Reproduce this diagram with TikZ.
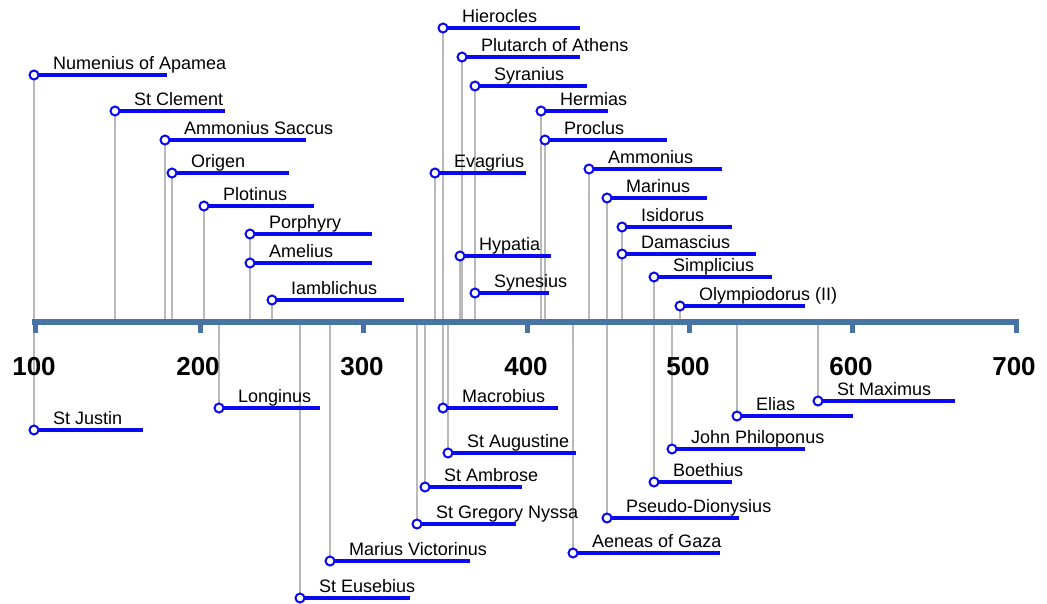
\documentclass[tikz,border=0pt]{standalone}
\usepackage{fontspec}
\setmainfont{Liberation Sans}
\definecolor{axisblue}{RGB}{72,116,164}
\definecolor{vgray}{RGB}{185,185,185}
\definecolor{barblue}{RGB}{10,10,240}
\tikzset{
  vline/.style={draw=vgray, line width=1.5pt},
  axisline/.style={draw=axisblue, line width=5.5pt},
  axistick/.style={draw=axisblue, line width=5pt},
  yearlabel/.style={font=\bfseries\fontsize{26}{29}\selectfont, inner sep=0pt, anchor=center},
  bar/.style={draw=barblue, line width=3.5pt},
  marker/.style={circle, draw=barblue, fill=white, line width=2pt, minimum size=9pt, inner sep=0pt},
  namelabel/.style={font=\fontsize{18}{20}\selectfont, inner sep=0pt, anchor=base west}
}
\begin{document}
\begin{tikzpicture}[x=1pt,y=-1pt]
\useasboundingbox (0,0) rectangle (1047,603);
\fill[white] (0,0) rectangle (1047,603);
\def\people{34/75/167/Numenius of Apamea,
115/111/225/St Clement,
165/140/306/Ammonius Saccus,
172/173/289/Origen,
204/206/314/Plotinus,
250/234/372/Porphyry,
250/263/372/Amelius,
272/300/404/Iamblichus,
443/28/580/Hierocles,
462/57/580/Plutarch of Athens,
475/86/587/Syranius,
541/111/608/Hermias,
545/140/667/Proclus,
435/173/526/Evagrius,
589/169/722/Ammonius,
607/198/707/Marinus,
622/227/732/Isidorus,
622/254/756/Damascius,
654/277/772/Simplicius,
680/306/805/Olympiodorus (II),
460/256/551/Hypatia,
475/293/549/Synesius,
34/430/143/St Justin,
219/408/320/Longinus,
300/598/410/St Eusebius,
330/561/470/Marius Victorinus,
443/408/558/Macrobius,
448/453/576/St Augustine,
425/487/522/St Ambrose,
417/524/516/St Gregory Nyssa,
573/553/720/Aeneas of Gaza,
818/401/955/St Maximus,
737/416/853/Elias,
672/449/805/John Philoponus,
654/482/732/Boethius,
607/518/739/Pseudo-Dionysius}
% coordinates and grey drop lines
\foreach \x/\y/\e/\t [count=\i] in \people {
  \coordinate (P\i) at (\x,\y);
  \coordinate (A\i) at (\x,322);
  \coordinate (E\i) at (\e,\y);
  \draw[vline] (A\i) -- (P\i);
}
% axis
\coordinate (axL) at (32,322);
\coordinate (axR) at (1019,322);
\draw[axisline] (axL) -- (axR);
\foreach \yr/\xx/\lx in {100/35/34, 200/200/198, 300/363/362, 400/527/526, 500/689/688, 600/852/851, 700/1016/1014} {
  \coordinate (T\yr) at (\xx,319.5);
  \coordinate (B\yr) at (\xx,333);
  \draw[axistick] (T\yr) -- (B\yr);
  \node[yearlabel] (Y\yr) at (\lx,367) {\yr};
}
% bars, markers, labels
\foreach \x/\y/\e/\t [count=\i] in \people {
  \draw[bar] (P\i) -- (E\i);
  \node[marker] (M\i) at (P\i) {};
  \node[namelabel] (L\i) at (\x+19,\y-5.5) {\t};
}
\end{tikzpicture}
\end{document}
